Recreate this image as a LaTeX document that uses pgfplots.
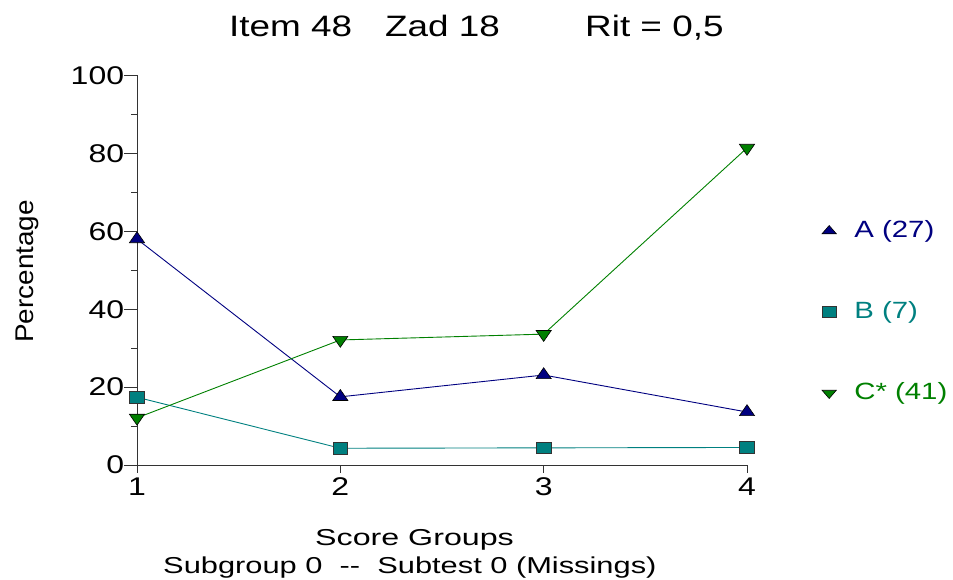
\documentclass[border=0pt]{standalone}
\usepackage{fontspec}
\setmainfont{Liberation Sans}[FakeStretch=1.25]
\newfontfamily\ylabfont{Liberation Sans}[FakeStretch=1.09]
\newfontfamily\subfont{Liberation Sans}[FakeStretch=1.34]
\newfontfamily\xlabfont{Liberation Sans}[FakeStretch=1.4]
\usepackage{pgfplots}
\pgfplotsset{compat=1.18}
\definecolor{cA}{RGB}{0,0,128}
\definecolor{cB}{RGB}{0,128,128}
\definecolor{cC}{RGB}{0,128,0}
\begin{document}
\begin{tikzpicture}
\path[use as bounding box] (0,0) rectangle (953bp,580bp);
\begin{axis}[
  at={(137bp,115bp)}, anchor=south west,
  scale only axis, width=610bp, height=389.5bp,
  xmin=1, xmax=4, ymin=0, ymax=100,
  axis x line*=bottom, axis y line*=left,
  axis line style={-, line width=0.8bp, black!80},
  xtick={1,2,3,4}, ytick={0,20,40,60,80,100},
  minor y tick num=1,
  tick align=outside,
  major tick length=12.7bp, minor tick length=6bp,
  tick style={line width=0.8bp, black!80},
  xtick style={/pgfplots/major tick length=8bp},
  /pgf/number format/assume math mode=true,
  ticklabel style={font=\fontsize{25.6bp}{30bp}\selectfont},
  yticklabel style={anchor=east, inner sep=0pt},
  xticklabel style={anchor=north, inner sep=0pt},
  clip=false,
  legend style={at={(rel axis cs:1.123,0.629)}, anchor=north west,
    draw=none, fill=none, inner sep=0pt, outer sep=0pt,
    row sep=59bp, column sep=18bp,
    nodes={inner sep=0pt, text height=17bp, text depth=5bp,
      font=\fontsize{23.5bp}{28bp}\selectfont}},
  legend cell align=left,
  legend image code/.code={\draw[#1] plot coordinates {(0bp,0bp)};},
]
\addplot[forget plot, cA, line width=0.9bp, mark=triangle*, mark size=7.3bp,
  mark options={xscale=1.2, fill=cA, draw=black, line width=0.6bp}]
  coordinates {(1,58.0) (2,17.5) (3,23.1) (4,13.6)};
\addplot[forget plot, cB, line width=0.9bp, mark=square*, mark size=5.7bp,
  mark options={xscale=1.3, fill=cB, draw=black!80, line width=0.6bp}]
  coordinates {(1,17.4) (2,4.3) (3,4.4) (4,4.5)};
\addplot[forget plot, cC, line width=0.9bp, mark=triangle*, mark size=7.3bp,
  mark options={rotate=180, xscale=1.2, fill=cC, draw=black, line width=0.6bp}]
  coordinates {(1,12.1) (2,32.1) (3,33.6) (4,81.4)};
\addlegendimage{only marks, mark=triangle*, mark size=5.5bp,
  mark options={xscale=1.5, fill=cA, draw=black, line width=0.6bp}}
\addlegendentry{\textcolor{cA}{A (27)}}
\addlegendimage{only marks, mark=square*, mark size=5.5bp,
  mark options={xscale=1.27, fill=cB, draw=black!80, line width=0.6bp}}
\addlegendentry{\textcolor{cB}{B (7)}}
\addlegendimage{only marks, mark=triangle*, mark size=5.5bp,
  mark options={rotate=180, xscale=1.5, fill=cC, draw=black, line width=0.6bp}}
\addlegendentry{\textcolor{cC}{C* (41)}}
\end{axis}
\begin{scope}[every node/.style={inner sep=0pt, font=\fontsize{29.5bp}{34bp}\selectfont}]
\node[anchor=base west] at (229bp,543.3bp) {Item 48};
\node[anchor=base west] at (385bp,543.3bp) {Zad 18};
\node[anchor=base west] at (585bp,543.3bp) {Rit = 0,5};
\end{scope}
\node[inner sep=0pt, anchor=base west, font=\xlabfont\fontsize{23bp}{27bp}\selectfont] at (315bp,34.3bp) {Score Groups};
\node[inner sep=0pt, anchor=base west, font=\subfont\fontsize{23bp}{27bp}\selectfont] at (163bp,6.7bp) {Subgroup 0\ \ -{}-\ \ Subtest 0 (Missings)};
\node[inner sep=0pt, rotate=90, anchor=base, font=\ylabfont\fontsize{25.6bp}{30bp}\selectfont] at (33bp,308.5bp) {Percentage};
\end{tikzpicture}
\end{document}
